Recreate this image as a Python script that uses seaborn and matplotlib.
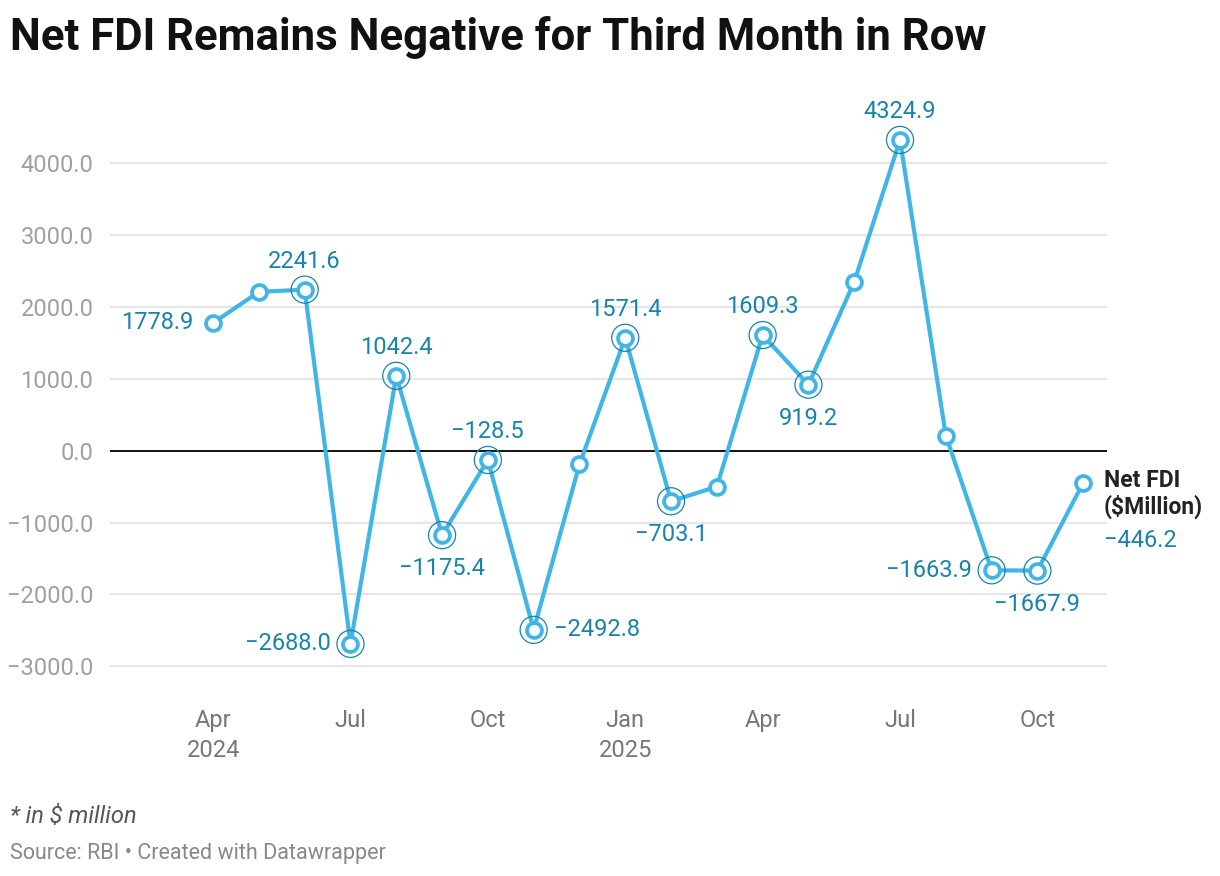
import pandas as pd
import seaborn as sns
import matplotlib.pyplot as plt

months = ["Apr 2024", "May 2024", "Jun 2024", "Jul 2024", "Aug 2024", "Sep 2024",
          "Oct 2024", "Nov 2024", "Dec 2024", "Jan 2025", "Feb 2025", "Mar 2025",
          "Apr 2025", "May 2025", "Jun 2025", "Jul 2025", "Aug 2025", "Sep 2025",
          "Oct 2025", "Nov 2025"]
net_fdi = [1778.9, 2210.0, 2241.6, -2688.0, 1042.4, -1175.4, -128.5, -2492.8, -190.0,
           1571.4, -703.1, -500.0, 1609.3, 919.2, 2350.0, 4324.9, 210.0, -1663.9,
           -1667.9, -446.2]
# which points get a value label, and where it sits
label_pos = {0: "left", 2: "above", 3: "left", 4: "above", 5: "below", 6: "above",
             7: "right", 9: "above", 10: "below", 12: "above", 13: "below",
             15: "above", 17: "left", 18: "below"}
ringed = [2, 3, 4, 5, 6, 7, 9, 10, 12, 13, 15, 17, 18]
tick_idx = [0, 3, 6, 9, 12, 15, 18]
tick_labels = ["Apr\n2024", "Jul", "Oct", "Jan\n2025", "Apr", "Jul", "Oct"]
yticks = [4000, 3000, 2000, 1000, 0, -1000, -2000, -3000]

df = pd.DataFrame({"idx": range(len(months)), "month": months, "value": net_fdi})

sns.set_style("white")
plt.rcParams['font.family'] = ['Roboto', 'DejaVu Sans']

line_c = "#41b6e6"
lab_c = "#1884ab"

fig = plt.figure(figsize=(12.2, 8.76), dpi=100)
ax = fig.add_axes([0.0902, 0.2123, 0.8172, 0.6735])

for y in yticks:
    if y != 0:
        ax.axhline(y, color="#e2e2e2", lw=1.2, zorder=0)
ax.axhline(0, color="#111111", lw=1.4, zorder=1)

sns.lineplot(data=df, x="idx", y="value", color=line_c, lw=3, ax=ax, zorder=2)
ring = df[df["idx"].isin(ringed)]
ax.scatter(ring["idx"], ring["value"], s=380, facecolor="none", edgecolor=lab_c,
           linewidth=0.9, zorder=3)
sns.scatterplot(data=df, x="idx", y="value", s=115, color="white", edgecolor=line_c,
                linewidth=2.7, ax=ax, zorder=4)

offsets = {"above": (0, 12, "center", "bottom"), "below": (0, -16, "center", "top"),
           "left": (-14, 0, "right", "center"), "right": (15, 0, "left", "center")}
for i, pos in label_pos.items():
    dx, dy, ha, va = offsets[pos]
    ax.annotate(f"{net_fdi[i]:.1f}".replace("-", "\u2212"), (i, net_fdi[i]),
                xytext=(dx, dy), textcoords="offset points", ha=ha, va=va,
                fontsize=17, color=lab_c)

last = len(net_fdi) - 1
ax.annotate("Net FDI\n($Million)", (last, net_fdi[last]), xytext=(15, 10),
            textcoords="offset points", ha="left", va="top", fontsize=16.5,
            fontweight="bold", color="#222222", linespacing=1.15,
            annotation_clip=False)
ax.annotate(f"{net_fdi[last]:.1f}".replace("-", "\u2212"), (last, net_fdi[last]),
            xytext=(15, -33), textcoords="offset points", ha="left", va="top",
            fontsize=17, color=lab_c, annotation_clip=False)

ax.set_xlim(-2.25, 19.52)
ax.set_ylim(-3330, 4880)
ax.set_xticks(tick_idx)
ax.set_xticklabels(tick_labels, linespacing=1.35)
ax.set_yticks(yticks)
ax.set_yticklabels([f"{v:.1f}".replace("-", "\u2212") for v in yticks])
ax.tick_params(axis="both", length=0, labelsize=17)
ax.tick_params(axis="x", pad=14, labelcolor="#777777")
ax.tick_params(axis="y", pad=12, labelcolor="#a0a0a0")
ax.set_xlabel("")
ax.set_ylabel("")
sns.despine(ax=ax, left=True, bottom=True)

fig.text(0.008, 0.957, "Net FDI Remains Negative for Third Month in Row",
         fontsize=31.5, fontweight="bold", color="#111111", va="center")
fig.text(0.008, 0.068, "* in $ million", fontsize=17, style="italic",
         color="#555555", va="center")
fig.text(0.008, 0.026, "Source: RBI \u2022 Created with Datawrapper", fontsize=15.5,
         color="#888888", va="center")

fig.savefig("out.png", dpi=100)
